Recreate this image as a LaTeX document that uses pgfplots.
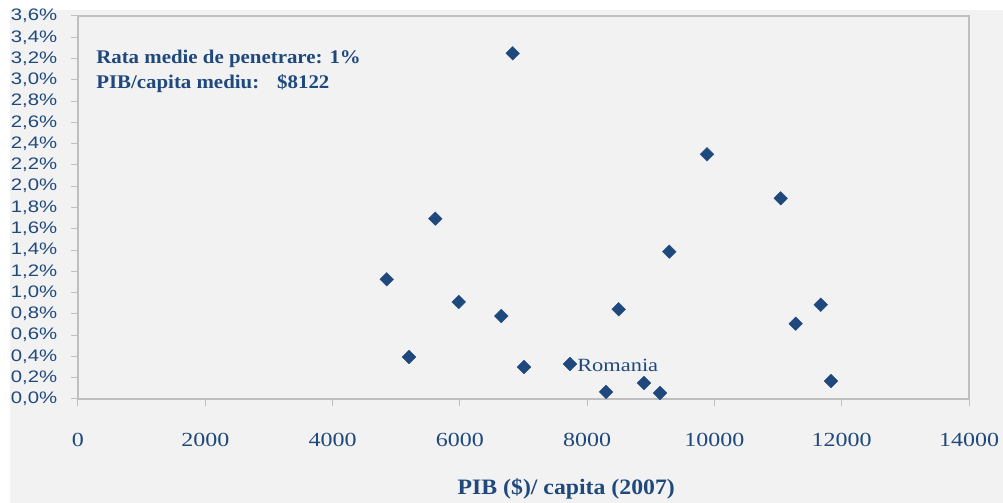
\documentclass[border=0pt]{standalone}
\usepackage{pgfplots}
\pgfplotsset{compat=1.18}
\usepackage{fontspec}
\setmainfont{Liberation Serif}
\newfontfamily\ysans[FakeStretch=1.22]{Liberation Sans}
\newfontfamily\xserif[FakeStretch=1.2]{Liberation Serif}
\newfontfamily\bserif[FakeStretch=1.08]{Liberation Serif}
\definecolor{navy}{HTML}{1F497D}
\definecolor{bggray}{HTML}{F2F2F2}
\definecolor{axgray}{HTML}{BFBFBF}

\begin{document}
\begin{tikzpicture}
% page background: white rim on top/left, grey panel
\fill[white] (-58.5pt,-78pt) rectangle (693.75pt,299.25pt);
\fill[bggray] (-51pt,-78pt) rectangle (693.75pt,291.75pt);

\begin{axis}[
  at={(0,0)}, anchor=south west,
  scale only axis,
  width=668.25pt,
  height=287.25pt,
  xmin=0, xmax=14000,
  ymin=0, ymax=3.6,
  clip=false,
  xtick={0,2000,4000,6000,8000,10000,12000,14000},
  ytick={0,0.2,0.4,0.6,0.8,1.0,1.2,1.4,1.6,1.8,2.0,2.2,2.4,2.6,2.8,3.0,3.2,3.4,3.6},
  scaled ticks=false,
  xtick pos=left, ytick pos=left,
  tick align=outside,
  major tick length=5pt,
  axis line style={axgray, line width=1.5pt},
  tick style={axgray, line width=0.75pt},
  xticklabel={\pgfmathprintnumber[assume math mode=true,1000 sep={}]{\tick}},
  yticklabel={\pgfmathprintnumber[assume math mode=true,fixed,fixed zerofill,precision=1,use comma]{\tick}\%},
  xticklabel style={font=\xserif\fontsize{15}{18}\selectfont, text=navy, yshift=-17pt},
  yticklabel style={font=\ysans\fontsize{12.5}{14}\selectfont, text=navy, xshift=-7pt},
  xlabel={PIB (\$)/ capita (2007)},
  xlabel style={at={(axis description cs:0.548,0)}, anchor=base, yshift=-72pt, inner sep=0pt,
    font=\bserif\bfseries\fontsize{16.5}{19}\selectfont, text=navy},
]

\addplot[only marks, mark=square*, mark size=3.6pt,
  mark options={rotate=45, fill=navy, draw=navy, line width=0.3pt}]
  table[row sep=crcr]{
  4851  1.125\\
  5201  0.395\\
  5614  1.695\\
  5982  0.912\\
  6651  0.780\\
  6830  3.249\\
  7008  0.301\\
  7731  0.329\\
  8297  0.066\\
  8496  0.843\\
  8893  0.150\\
  9145  0.056\\
  9291  1.385\\
  9883  2.300\\
  11041 1.886\\
  11277 0.708\\
  11670 0.886\\
  11832 0.169\\
};

\node[anchor=base west, inner sep=0pt, text=navy, font=\bserif\bfseries\fontsize{14.5}{17}\selectfont]
  at (axis description cs:0.0202,0.877) {Rata medie de penetrare: 1\%};
\node[anchor=base west, inner sep=0pt, text=navy, font=\bserif\bfseries\fontsize{14.5}{17}\selectfont]
  at (axis description cs:0.0202,0.812) {PIB/capita mediu:};
\node[anchor=base west, inner sep=0pt, text=navy, font=\bserif\bfseries\fontsize{14.5}{17}\selectfont]
  at (axis description cs:0.2233,0.812) {\$8122};
\node[anchor=base west, inner sep=0pt, text=navy, font=\xserif\fontsize{14}{16}\selectfont,
  xshift=5.25pt, yshift=-6pt] at (axis cs:7731,0.329) {Romania};

\end{axis}

\pgfresetboundingbox
\path (-58.5pt,-78pt) rectangle (693.75pt,299.25pt);
\end{tikzpicture}
\end{document}
